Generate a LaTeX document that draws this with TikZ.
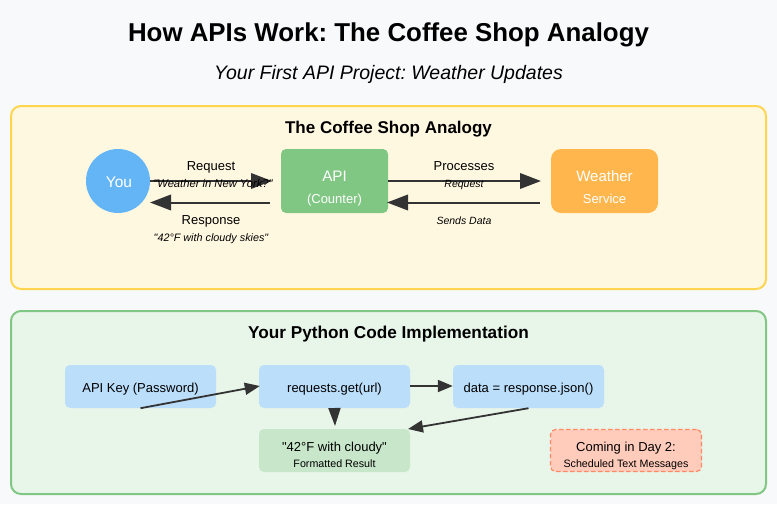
\documentclass[tikz,border=0pt]{standalone}
\usepackage{fontspec}
\setmainfont{Liberation Sans}[Ligatures=TeXOff]
\usetikzlibrary{arrows.meta}
\definecolor{pagebg}{HTML}{F8F9FA}
\definecolor{yfill}{HTML}{FFF8E1}
\definecolor{ystroke}{HTML}{FFD54F}
\definecolor{gfill}{HTML}{E8F5E9}
\definecolor{gstroke}{HTML}{81C784}
\definecolor{youc}{HTML}{64B5F6}
\definecolor{weatherc}{HTML}{FFB74D}
\definecolor{codec}{HTML}{BBDEFB}
\definecolor{resultc}{HTML}{C8E6C9}
\definecolor{comingc}{HTML}{FFCCBC}
\definecolor{comings}{HTML}{FF8A65}
\definecolor{arrowc}{HTML}{333333}
\newcommand{\fs}[1]{\fontsize{#1}{#1}\selectfont\frenchspacing}
\tikzset{
  x=1pt,y=-1pt,
  panel/.style={rounded corners=10pt,line width=2pt},
  box/.style={minimum width=#1,minimum height=64pt,inner sep=0pt,align=center,text=white},
  codebox/.style={minimum width=151pt,minimum height=43pt,inner sep=0pt,align=center,rounded corners=5pt,text=black},
  lab/.style={inner sep=0pt,anchor=base,text=black},
  small/.style={lab,font=\fs{10.5}\itshape},
  bigarrow/.style={draw=arrowc,line width=2pt,-{Triangle[length=21pt,width=15.5pt]},shorten >=0pt},
  thinarrow/.style={draw=arrowc,line width=1.8pt,-{Triangle[length=15pt,width=12pt]}},
}
\begin{document}
\begin{tikzpicture}
\useasboundingbox (0,0) rectangle (777,504);
\fill[pagebg] (0,0) rectangle (777,504);
\draw[panel,draw=ystroke,fill=yfill] (11,106) rectangle (766,289);
\draw[panel,draw=gstroke,fill=gfill] (11,311) rectangle (766,494);

\node[lab,font=\fs{25.85}\bfseries] (title) at (388.5,41) {How APIs Work: The Coffee Shop Analogy};
\node[lab,font=\fs{19.5}\itshape] (subtitle) at (388.5,79) {Your First API Project: Weather Updates};
\node[lab,font=\fs{17}\bfseries] (h1) at (388.5,133) {The Coffee Shop Analogy};
\node[lab,font=\fs{17.2}\bfseries] (h2) at (388.5,338) {Your Python Code Implementation};

\node[circle,fill=youc,minimum size=64pt,inner sep=0pt,text=white,font=\fs{15.5}] (you) at (118,181) {};
\node[lab,text=white,font=\fs{15.5}] (yout) at (119,187) {You};
\node[box=107pt,fill=gstroke,rounded corners=5pt] (api) at (334.5,181) {};
\node[box=107pt,fill=weatherc,rounded corners=10pt] (weather) at (604.5,181) {};
\node[lab,text=white,font=\fs{15.2}] (apit) at (334.5,181) {API};
\node[lab,text=white,font=\fs{13}] (apis) at (334.5,203) {(Counter)};
\node[lab,text=white,font=\fs{15}] (wt) at (604.5,181) {Weather};
\node[lab,text=white,font=\fs{13}] (ws) at (604.5,203) {Service};

\coordinate (a1s) at (150,181); \coordinate (a1e) at (272,181);
\coordinate (a2s) at (270,202.5); \coordinate (a2e) at (150,202.5);
\coordinate (a3s) at (388,181); \coordinate (a3e) at (541,181);
\coordinate (a4s) at (540,202.5); \coordinate (a4e) at (387,202.5);
\draw[bigarrow] (a1s) -- (a1e);
\draw[bigarrow] (a2s) -- (a2e);
\draw[bigarrow] (a3s) -- (a3e);
\draw[bigarrow] (a4s) -- (a4e);

\node[lab,font=\fs{13}] (l1) at (211,170) {Request};
\node[lab,font=\fs{11.2}\itshape] (l2) at (213,187) {"Weather in New York?"};
\node[lab,font=\fs{13}] (l3) at (211,224) {Response};
\node[lab,font=\fs{10.8}\itshape] (l4) at (211,241) {"42°F with cloudy skies"};
\node[lab,font=\fs{13}] (l5) at (464,170) {Processes};
\node[small] (l6) at (464,187) {Request};
\node[small] (l7) at (464,224) {Sends Data};

\node[codebox,fill=codec,font=\fs{13}] (key) at (140.5,386.5) {};
\node[codebox,fill=codec,font=\fs{13}] (req) at (334.5,386.5) {};
\node[codebox,fill=codec,font=\fs{13}] (data) at (528.5,386.5) {};
\node[codebox,fill=resultc] (res) at (334.5,450.5) {};
\node[codebox,fill=comingc,draw=comings,line width=1.2pt,dash pattern=on 4.5pt off 2.5pt,minimum width=151pt,minimum height=42pt] (coming) at (626,450.5) {};
\node[lab,font=\fs{13}] (keyt) at (140.5,392) {API Key (Password)};
\node[lab,font=\fs{13}] (reqt) at (334.5,392) {requests.get(url)};
\node[lab,font=\fs{13}] (datat) at (528.5,392) {data = response.json()};
\node[lab,font=\fs{13}] (rest) at (334.5,451) {"42°F with cloudy"};
\node[lab,font=\fs{10.7}] (ress) at (334.5,467) {Formatted Result};
\node[lab,font=\fs{13}] (comt) at (626,451) {Coming in Day 2:};
\node[lab,font=\fs{10.7}] (coms) at (626,467) {Scheduled Text Messages};

\coordinate (b3e) at (335,426); \coordinate (b4e) at (408,429);
\draw[thinarrow] (key.south) -- ([shift={(1,-0.5)}]req.west);
\draw[thinarrow] ([yshift=0.5pt]req.east) -- ([yshift=0.5pt]data.west);
\draw[thinarrow,-{Triangle[length=18pt,width=12pt]}] (req.south) -- (b3e);
\draw[thinarrow] (data.south) -- (b4e);
\end{tikzpicture}
\end{document}
